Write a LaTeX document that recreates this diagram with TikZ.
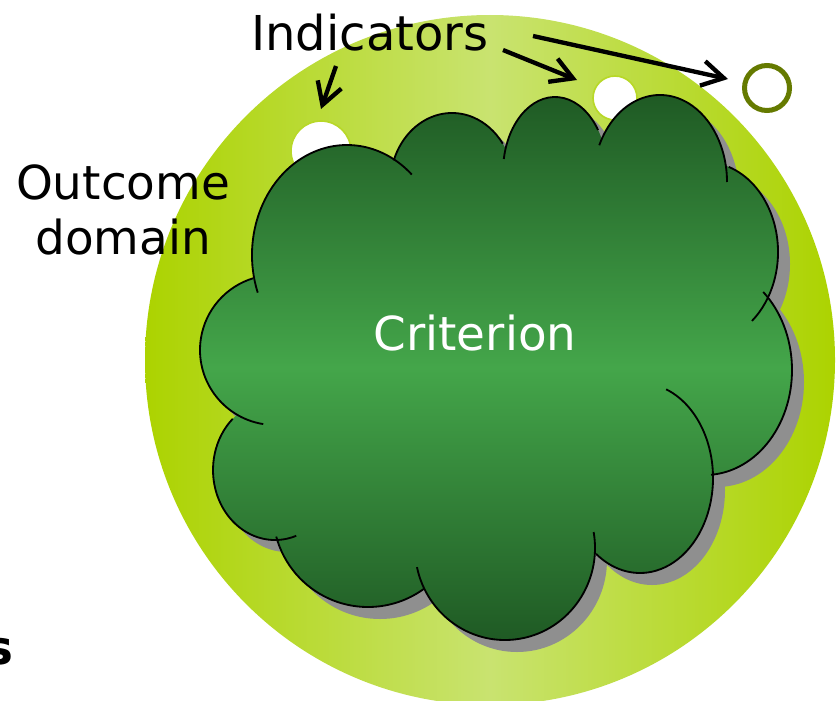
\documentclass[tikz,border=0pt]{standalone}
\usepackage{fontspec}
\setmainfont{DejaVu Sans}
\usepackage{tikz}
\usetikzlibrary{arrows.meta}
\definecolor{domedge}{RGB}{172,211,0}
\definecolor{domlight}{RGB}{201,227,112}
\definecolor{critdark}{RGB}{31,90,36}
\definecolor{critlight}{RGB}{68,166,74}
\definecolor{shadowgray}{RGB}{143,143,143}
\definecolor{ringolive}{RGB}{101,122,0}
\definecolor{spotrim}{RGB}{184,216,40}

\begin{document}
\begin{tikzpicture}[x=0.3mm,y=-0.3mm,
	pointer/.style={line width=1.3mm,-{Straight Barb[length=6.5mm,width=7.5mm]}},
	bump/.style={line width=0.55mm,black},
	txt/.style={font=\fontsize{40}{47}\selectfont,align=center},
	spot/.style={circle,draw=spotrim,line width=0.5mm,fill=white,inner sep=0pt}]
	\useasboundingbox (0,0) rectangle (837,700);
	% outcome domain
	\shade[left color=domedge,right color=domedge,middle color=domlight] (490,360) circle (345);
	% indicators inside
	\node[spot,minimum size=18mm] (spotA) at (321,151) {};
	\node[spot,minimum size=13.2mm] (spotB) at (615,98) {};
	% shadow and cloud
	\fill[shadowgray,shift={(12,12)}] \foreach \cx/\cy/\rx/\ry in {347/255/95/110,452/185/62/72,555/172/52/75,660/182/67/87,705/252/73/90,705/370/87/105,640/478/73/95,505/548/90/92,368/512/95/95,275/470/62/70,275/350/75/75,490/365/210/190} {(\cx,\cy) ellipse [x radius=\rx,y radius=\ry]};
	\shade[top color=critdark,bottom color=critdark,middle color=critlight] \foreach \cx/\cy/\rx/\ry in {347/255/95/110,452/185/62/72,555/172/52/75,660/182/67/87,705/252/73/90,705/370/87/105,640/478/73/95,505/548/90/92,368/512/95/95,275/470/62/70,275/350/75/75,490/365/210/190} {(\cx,\cy) ellipse [x radius=\rx,y radius=\ry]};
	\foreach \cx/\cy/\rx/\ry/\ta/\tb in {347/255/95/110/160/313,452/185/62/72/200/325,555/172/52/75/190/326,660/182/67/87/205/360,705/252/73/90/289/410,705/370/87/105/312/446,640/478/73/95/291/487,505/548/90/92/-10/168,368/512/95/95/54/165,275/470/62/70/70/227,275/350/75/75/99/253}
		\draw[bump] ({\cx+\rx*cos(\ta)},{\cy+\ry*sin(\ta)}) arc[start angle=\ta,end angle=\tb,x radius=\rx,y radius=\ry];
	% texts
	\node[txt,text=white] (crit) at (475,333) {Criterion};
	\node[txt] (dom) at (123,210) {Outcome\\domain};
	\node[txt,font=\fontsize{41}{47}\selectfont] (ind) at (370,33) {Indicators};
	\node[txt,font=\fontsize{40}{47}\selectfont\bfseries] (cut) at (-1,652) {s};
	% outside indicator
	\node[circle,draw=ringolive,line width=1.5mm,minimum size=13.5mm,inner sep=0pt] (spotC) at (767,88) {};
	% arrows
	\coordinate (tailA) at (336,66);
	\coordinate (headA) at (321,109);
	\coordinate (tailB) at (503,50);
	\coordinate (headB) at (577,80);
	\coordinate (tailC) at (533,36);
	\coordinate (headC) at (728,79);
	\draw[pointer] (tailA)--(headA);
	\draw[pointer] (tailB)--(headB);
	\draw[pointer] (tailC)--(headC);
\end{tikzpicture}
\end{document}
